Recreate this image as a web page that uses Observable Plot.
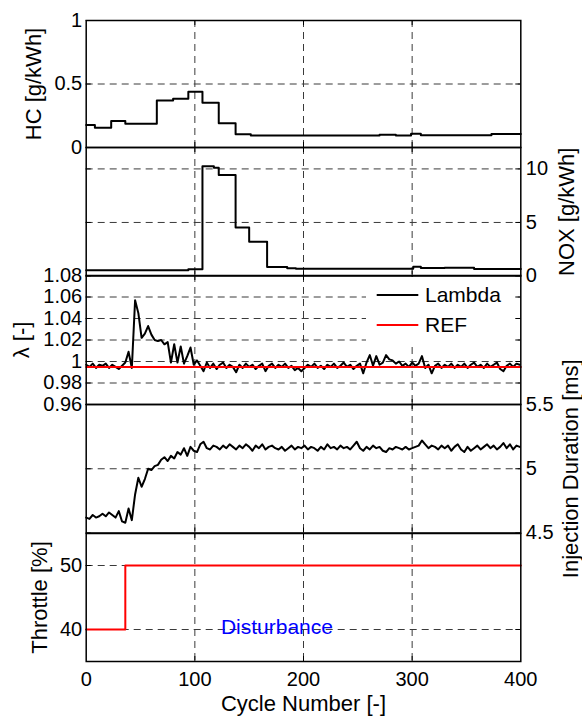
<!DOCTYPE html>
<html><head><meta charset="utf-8">
<script src="https://cdn.jsdelivr.net/npm/d3@7"></script>
<script src="https://cdn.jsdelivr.net/npm/@observablehq/plot@0.6"></script>
<style>
body{margin:0;background:#fff;}
#chart{position:relative;width:582px;height:719px;background:#fff;font-family:"Liberation Sans",Arial,sans-serif;}
#chart svg{position:absolute;left:0;}
</style></head><body><div id="chart"></div>
<script>
// ---------- data ----------
const xTicks = [0, 100, 200, 300, 400];

const hcCycle = [0, 8, 23, 36, 65, 80, 94, 107, 122, 137.5, 151.5, 270, 285, 299, 308, 373, 400];
const hcValue = [0.177, 0.156, 0.208, 0.187, 0.371, 0.384, 0.439, 0.352, 0.19, 0.104, 0.094, 0.1, 0.094, 0.108, 0.096, 0.106, 0.106];

const noxCycle = [0, 94, 107, 117.5, 122, 137.5, 150, 166.5, 185, 193, 301, 308, 330, 357, 400];
const noxValue = [0.53, 0.63, 10.25, 10.1, 9.44, 4.53, 3.19, 0.84, 0.72, 0.68, 0.87, 0.75, 0.78, 0.65, 0.65];

const sampleCycle = d3.range(0, 400, 3); // one sample every 3 cycles
const lambdaValue = [
 0.997,0.995,0.998,0.994,0.997,0.996,0.998,0.994,0.997,0.995,0.993,0.996,0.999,1.009,0.994,1.057,1.045,1.022,1.026,1.033,
 1.025,1.020,1.019,1.020,1.016,1.018,0.999,1.016,0.999,1.014,0.998,1.005,1.013,0.997,1.001,0.996,0.991,0.999,0.994,0.998,
 0.993,0.997,0.999,0.994,0.997,0.995,0.990,0.997,0.994,0.998,0.995,0.997,0.993,0.996,0.998,0.991,0.996,0.998,0.994,0.997,
 0.995,0.998,0.994,0.996,0.992,0.994,0.991,0.994,0.997,0.995,0.998,0.994,0.996,0.993,0.997,0.995,0.998,0.994,0.996,0.999,
 0.995,0.997,0.993,0.996,0.998,0.989,0.999,1.006,0.996,1.005,0.997,0.999,1.006,1.002,1.001,0.998,1.000,0.996,0.998,0.995,
 0.999,0.996,0.998,1.005,0.994,0.997,0.989,0.996,0.998,0.994,0.997,0.995,0.998,0.994,0.997,0.995,0.998,0.994,0.997,0.999,
 0.995,0.997,0.994,0.998,0.995,0.997,0.999,0.993,0.991,0.996,0.998,0.995,0.998,0.997];
const refCycle = [0, 400];
const refValue = [0.995, 0.995];

const injValue = [
 4.62,4.61,4.64,4.62,4.63,4.65,4.63,4.66,4.64,4.62,4.67,4.59,4.58,4.69,4.60,4.80,4.93,4.86,4.92,5.00,
 4.99,5.02,5.03,5.07,5.09,5.06,5.10,5.08,5.13,5.11,5.16,5.10,5.17,5.14,5.13,5.19,5.21,5.16,5.15,5.18,
 5.17,5.15,5.18,5.16,5.19,5.17,5.15,5.18,5.16,5.19,5.17,5.14,5.18,5.16,5.19,5.15,5.17,5.18,5.16,5.15,
 5.17,5.14,5.16,5.18,5.15,5.17,5.16,5.18,5.15,5.17,5.16,5.14,5.17,5.15,5.19,5.16,5.17,5.15,5.18,5.16,
 5.17,5.15,5.18,5.21,5.16,5.14,5.17,5.15,5.18,5.16,5.17,5.14,5.13,5.16,5.15,5.17,5.16,5.15,5.17,5.15,
 5.16,5.17,5.18,5.22,5.19,5.16,5.18,5.17,5.15,5.18,5.16,5.18,5.14,5.17,5.19,5.15,5.13,5.17,5.14,5.16,
 5.18,5.15,5.17,5.19,5.16,5.18,5.15,5.17,5.20,5.16,5.19,5.15,5.18,5.17];

const throttleCycle = [0, 36, 400];
const throttleValue = [40, 50, 50];

const hcTicks = [0, 0.5, 1];
const noxTicks = [0, 5, 10];
const lambdaTicks = [0.96, 0.98, 1, 1.02, 1.04, 1.06, 1.08];
const injTicks = [4.5, 5, 5.5];
const throttleTicks = [40, 50];

// ---------- layout ----------
const W = 582, ML = 85.7, MR = 61.7, PW = W - ML - MR;
const edges = [19.5, 146.5, 275, 404, 532.5, 660.5];
const FONT = "'Liberation Sans', Arial, Helvetica, sans-serif";
const gridStyle = {stroke: "#3a3a3a", strokeOpacity: 1, strokeWidth: 1, strokeDasharray: "7,5"};
const fmt = d => String(d);
const pts = (xs, ys) => xs.map((x, i) => ({x, y: ys[i]}));
const root = document.getElementById("chart");

function panel(i, o) {
  const top = edges[i], H = edges[i + 1] - edges[i];
  const bottom = o.bottom || 0;
  const anchor = o.anchor;
  const marks = [
    Plot.gridX([100, 200, 300], gridStyle),
    Plot.gridY(o.grid, gridStyle),
    Plot.ruleX([100, 200, 300], {insetTop: H - 5, stroke: "black"}),
    Plot.ruleX([100, 200, 300], {insetBottom: H - 5, stroke: "black"}),
    Plot.ruleY(o.ticks, {insetRight: PW - 5, stroke: "black"}),
    Plot.ruleY(o.ticks, {insetLeft: PW - 5, stroke: "black"}),
    ...o.marks,
    Plot.frame({stroke: "black", strokeWidth: 1.5}),
    Plot.axisY(o.ticks, {anchor, tickSize: 0, tickPadding: anchor === "left" ? 4 : 5, fontSize: 20, label: null, tickFormat: fmt}),
    Plot.text([o.label], {text: d => d, frameAnchor: anchor, dx: o.labelX - (anchor === "left" ? ML : W - MR),
      rotate: -90, fontSize: 22, textAnchor: "middle", lineAnchor: "middle", fill: "black"})
  ];
  if (o.xAxis) {
    marks.push(Plot.axisX(xTicks, {anchor: "bottom", tickSize: 0, tickPadding: 10, fontSize: 20, label: null, tickFormat: fmt}));
    marks.push(Plot.text(["Cycle Number [-]"], {text: d => d, frameAnchor: "bottom", dy: 42, fontSize: 22, lineAnchor: "middle", fill: "black"}));
  }
  const chart = Plot.plot({
    width: W, height: H + bottom,
    marginLeft: ML, marginRight: MR, marginTop: 0, marginBottom: bottom,
    style: {background: "transparent", overflow: "visible", fontFamily: FONT, color: "black"},
    x: o.xAxis ? {domain: [0, 400]} : {domain: [0, 400], axis: null},
    y: {domain: o.domain, axis: null},
    marks
  });
  chart.style.top = top + "px";
  root.append(chart);
}

panel(0, {domain: [0, 1], ticks: hcTicks, grid: [0.5], anchor: "left", label: "HC [g/kWh]", labelX: 33,
  marks: [Plot.line(pts(hcCycle, hcValue), {x: "x", y: "y", curve: "step-after", stroke: "black", strokeWidth: 2})]});

panel(1, {domain: [0, 12], ticks: noxTicks, grid: [5, 10], anchor: "right", label: "NOX [g/kWh]", labelX: 566,
  marks: [Plot.line(pts(noxCycle, noxValue), {x: "x", y: "y", curve: "step-after", stroke: "black", strokeWidth: 2})]});

panel(2, {domain: [0.96, 1.08], ticks: lambdaTicks, grid: [0.98, 1, 1.02, 1.04, 1.06], anchor: "left", label: "λ [-]", labelX: 21,
  marks: [
    Plot.line(pts(sampleCycle, lambdaValue), {x: "x", y: "y", stroke: "black", strokeWidth: 2}),
    Plot.line(pts(refCycle, refValue), {x: "x", y: "y", stroke: "#ff0000", strokeWidth: 2})
  ]});

panel(3, {domain: [4.5, 5.5], ticks: injTicks, grid: [5], anchor: "right", label: "Injection Duration [ms]", labelX: 570,
  marks: [Plot.line(pts(sampleCycle, injValue), {x: "x", y: "y", stroke: "black", strokeWidth: 2})]});

panel(4, {domain: [35, 55], ticks: throttleTicks, grid: [40, 50], anchor: "left", label: "Throttle [%]", labelX: 39,
  bottom: 719 - edges[5], xAxis: true,
  marks: [
    Plot.line(pts(throttleCycle, throttleValue), {x: "x", y: "y", curve: "step-after", stroke: "#ff0000", strokeWidth: 2}),
    Plot.text([{x: 124, y: 40, t: "Disturbance"}], {x: "x", y: "y", text: "t", textAnchor: "start", lineAnchor: "middle", dy: -2, fill: "#0000ff", fontSize: 21})
  ]});

// ---------- legend (lambda panel) ----------
const lg = d3.select(root).append("svg")
  .attr("width", 148).attr("height", 69)
  .style("left", "366px").style("top", "277px")
  .style("font-family", FONT);
lg.append("rect").attr("width", 148).attr("height", 69).attr("fill", "white");
const items = [{name: "Lambda", color: "black", y: 18}, {name: "REF", color: "#ff0000", y: 48}];
items.forEach(it => {
  lg.append("line").attr("x1", 10.7).attr("x2", 52.3).attr("y1", it.y).attr("y2", it.y)
    .attr("stroke", it.color).attr("stroke-width", 2);
  lg.append("text").attr("x", 59).attr("y", it.y).attr("dy", "0.35em")
    .attr("font-size", 21).attr("fill", "black").text(it.name);
});
</script></body></html>
